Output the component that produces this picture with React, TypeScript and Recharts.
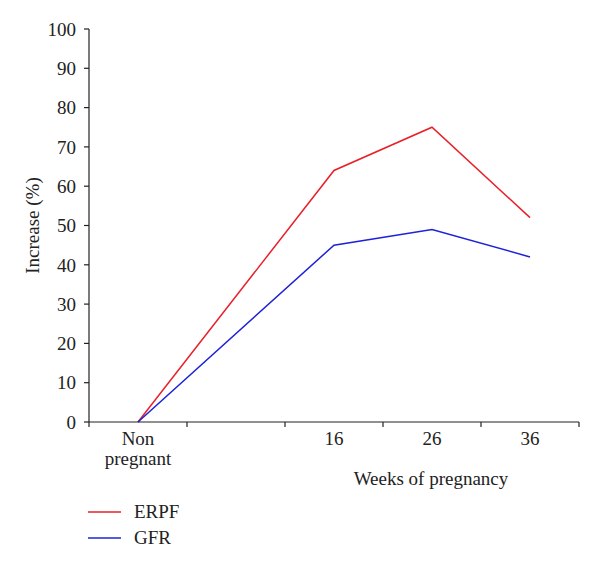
import React from 'react';
import { LineChart, Line, XAxis, YAxis, Legend, Label } from 'recharts';

const categories = ['Non pregnant', '', '16', '26', '36'];
const erpf = [0, null, 64, 75, 52];
const gfr = [0, null, 45, 49, 42];
const yTicks = [0, 10, 20, 30, 40, 50, 60, 70, 80, 90, 100];

const series = [
  { key: 'erpf', name: 'ERPF', color: '#e8202a' },
  { key: 'gfr', name: 'GFR', color: '#1e22d8' },
];

const data = categories.map((c, i) => ({ week: c, erpf: erpf[i], gfr: gfr[i] }));

const FONT = '"Liberation Serif", "DejaVu Serif", serif';
const INK = '#222';
const FS = 19;

const WeekTick = (props: any) => {
  const { x, y, payload, index } = props;
  const half = payload.offset || 49;
  const words = String(payload.value).split(' ').filter(Boolean);
  return (
    <g>
      <line x1={x - half} y1={y - 8} x2={x - half} y2={y - 3} stroke={INK} strokeWidth={1.2} />
      {index === categories.length - 1 && (
        <line x1={x + half} y1={y - 8} x2={x + half} y2={y - 3} stroke={INK} strokeWidth={1.2} />
      )}
      {words.map((w, i) => (
        <text
          key={i}
          x={x}
          y={y + 15 + i * 20}
          textAnchor="middle"
          fontFamily={FONT}
          fontSize={FS}
          fill={INK}
        >
          {w}
        </text>
      ))}
    </g>
  );
};

const renderLegend = () => (
  <div style={{ fontFamily: FONT, fontSize: FS, color: INK }}>
    {series.map((s) => (
      <div key={s.key} style={{ display: 'flex', alignItems: 'center', height: 26 }}>
        <svg width={46} height={10}>
          <line x1={0} y1={5} x2={33} y2={5} stroke={s.color} strokeWidth={1.5} />
        </svg>
        <span>{s.name}</span>
      </div>
    ))}
  </div>
);

export default function App() {
  return (
    <div style={{ position: 'absolute', left: 0, top: 0, background: '#fff' }}>
      <LineChart
        width={600}
        height={569}
        data={data}
        margin={{ top: 29, right: 21, left: 0, bottom: 0 }}
      >
        <XAxis
          dataKey="week"
          scale="band"
          height={147}
          interval={0}
          tickLine={false}
          axisLine={{ stroke: INK, strokeWidth: 1.2 }}
          tick={<WeekTick />}
        >
          <Label
            value="Weeks of pregnancy"
            position="center"
            dx={97}
            dy={-17}
            style={{ fontFamily: FONT, fontSize: FS, fill: INK }}
          />
        </XAxis>
        <YAxis
          width={89}
          domain={[0, 100]}
          ticks={yTicks}
          interval={0}
          tickSize={5}
          tickMargin={8}
          axisLine={{ stroke: INK, strokeWidth: 1.2 }}
          tickLine={{ stroke: INK, strokeWidth: 1.2 }}
          tick={{ fontFamily: FONT, fontSize: FS, fill: INK }}
        >
          <Label
            value="Increase (%)"
            angle={-90}
            position="center"
            dx={-12}
            style={{ fontFamily: FONT, fontSize: FS, fill: INK, textAnchor: 'middle' }}
          />
        </YAxis>
        <Legend
          layout="vertical"
          align="center"
          verticalAlign="middle"
          content={renderLegend}
          wrapperStyle={{ left: 88, top: 499, width: 140 }}
        />
        {series.map((s) => (
          <Line
            key={s.key}
            type="linear"
            dataKey={s.key}
            name={s.name}
            stroke={s.color}
            strokeWidth={1.5}
            dot={false}
            activeDot={false}
            connectNulls
            isAnimationActive={false}
          />
        ))}
      </LineChart>
    </div>
  );
}
